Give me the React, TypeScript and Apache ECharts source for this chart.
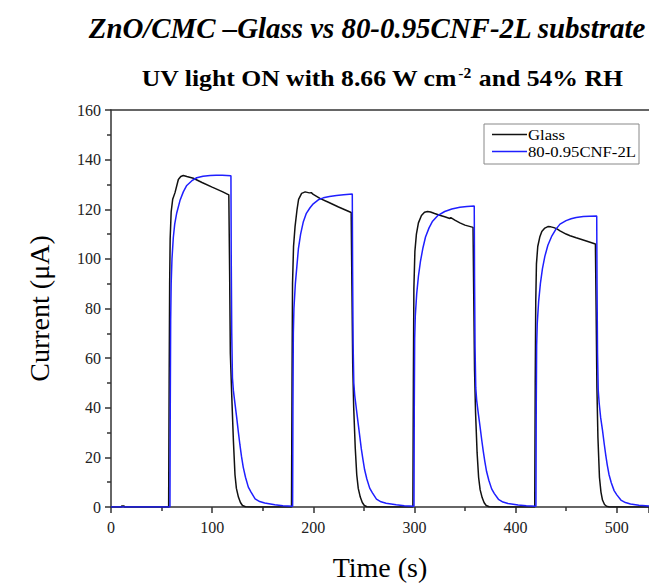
import React, { useEffect, useRef } from "react";
import * as echarts from "echarts";

const FONT = '"Liberation Serif", "Times New Roman", serif';

const titleText = "ZnO/CMC \u2013Glass vs 80-0.95CNF-2L substrate";
const subtitleMain = "UV light ON with 8.66 W cm";
const subtitleSup = "-2";
const subtitleTail = " and 54% RH";
const seriesNames = ["Glass", "80-0.95CNF-2L"];
const seriesColors = ["#111111", "#1f1fff"];

const xTicks = { min: 0, max: 532, interval: 100 };
const yTicks = { min: 0, max: 160, interval: 20 };

// Glass (black) time (s) and current (uA)
const glassTime = [
  0, 10, 10.5, 13, 13.5, 57,
  57.5, 58, 58.5, 59.5, 61, 63.3, 66.6, 69, 71.5, 75, 81.4, 90, 100, 110, 116.5,
  117.3, 118, 119.3, 121, 122.6, 124, 126, 128, 130, 133, 140, 178.5,
  179, 179.5, 180.5, 182, 184, 185.5, 188.5, 192, 196, 198, 200, 207, 215, 225, 237.5,
  238.2, 239, 240, 241.5, 243, 244.5, 246.5, 248.5, 250.5, 253, 260, 298.5,
  299, 299.5, 300.5, 302, 304, 307, 310, 313, 316, 320, 325, 330, 335, 336, 338, 340, 345, 350, 358,
  358.7, 359.5, 360.5, 362, 363.5, 365, 367, 369, 371, 374, 380, 419,
  419.5, 420, 420.7, 422, 424, 426, 429, 432, 435, 438, 441, 444, 450, 454, 460, 470, 479,
  479.7, 480.5, 481.5, 483, 484.5, 486, 488, 490, 493, 500, 532,
];
const glassCurrent = [
  0, 0, 0.4, 0.4, 0, 0,
  50, 90, 108, 119, 124, 126.7, 132, 133.2, 133.6, 133.2, 132.5, 130.8, 128.9, 127.1, 125.8,
  95, 62, 46, 27, 13, 7.5, 4, 1.8, 0.6, 0.1, 0, 0,
  50, 90, 105, 113, 120, 124, 126.4, 127, 126.6, 126.7, 126, 124.3, 122.8, 120.9, 118.7,
  90, 58, 40, 24, 13, 7.5, 4, 1.8, 0.6, 0.1, 0, 0,
  50, 88, 103, 110, 114.5, 117.5, 118.8, 119.1, 118.9, 118.3, 117.6, 117.0, 116.3, 116.6, 116.1, 115.6, 114.5, 113.6, 112.7,
  85, 55, 38, 22, 12, 7, 3.8, 1.7, 0.6, 0.1, 0, 0,
  50, 82, 98, 105, 108.8, 111, 112.4, 113, 112.9, 112.6, 112.1, 111.3, 110, 109.3, 108.5, 107.2, 106,
  80, 48, 28, 12, 6, 2.8, 1, 0.3, 0, 0, 0,
];

// 80-0.95CNF-2L (blue) time (s) and current (uA)
const cnfTime = [
  0, 58.3,
  58.6, 59, 59.5, 60.3, 61.6, 63, 65, 68.2, 71.5, 74.9, 80, 84.8, 91, 98, 104, 110, 118.6,
  118.9, 119.4, 120.1, 121, 122.5, 124.3, 126, 127.5, 129, 130.8, 133, 135.8, 138.5, 142.5, 147, 152, 162, 170, 179.6,
  179.9, 180.3, 180.9, 182.3, 183.8, 185.3, 187.5, 190.2, 193, 196.8, 200, 205, 210, 216, 223, 230, 238.6,
  238.9, 239.4, 240.1, 241, 242.5, 244.3, 246, 247.5, 249, 250.8, 253, 255.8, 258.5, 262.5, 267, 272, 282, 290, 299.6,
  299.9, 300.3, 300.9, 302.3, 304, 306, 308.5, 311, 314.5, 318, 323, 330, 337, 345, 352, 359.2,
  359.5, 360, 360.7, 361.6, 363.1, 364.9, 366.6, 368.1, 369.6, 371.4, 373.6, 376.4, 379.1, 383.1, 387.6, 392.6, 402.6, 410.6, 420.2,
  420.5, 420.9, 421.5, 422.9, 424.6, 426.6, 429, 432, 436, 440, 444, 450, 455, 460, 467, 473, 480.3,
  480.6, 481.1, 481.8, 482.7, 484.2, 486, 487.7, 489.2, 490.7, 492.5, 494.7, 497.5, 500.2, 504.2, 508.7, 513.7, 522, 532,
];
const cnfCurrent = [
  0, 0,
  40, 75, 90, 100, 108.5, 114, 118.5, 123.5, 127, 129.6, 131.5, 132.7, 133.3, 133.6, 133.7, 133.7, 133.5,
  100, 70, 52, 47, 42, 36, 30, 25, 20.5, 16, 12, 8, 6, 3.3, 2.2, 1.6, 0.9, 0.5, 0.3,
  40, 70, 80, 90, 97, 104, 110, 115, 118.2, 120.6, 122.2, 123.8, 124.6, 125.1, 125.5, 125.8, 126.1,
  96, 66, 50, 45, 40, 34, 28.5, 23.5, 19.5, 15, 11.3, 7.6, 5.7, 3.2, 2.1, 1.5, 0.9, 0.5, 0.3,
  40, 68, 77, 86, 93, 99, 104.5, 108.8, 112.5, 115.2, 117.4, 119.1, 120.1, 120.8, 121.1, 121.3,
  92, 64, 48, 43, 38, 32.5, 27, 22.5, 18.5, 14.3, 10.8, 7.3, 5.4, 3.1, 2, 1.4, 0.8, 0.5, 0.3,
  40, 65, 74, 83, 90, 96, 101, 105.5, 109.3, 112, 114, 115.4, 116.2, 116.7, 117.1, 117.2, 117.3,
  90, 62, 47, 42, 36, 31, 25.5, 21, 17, 13, 9.8, 6.6, 4.9, 2.8, 1.8, 1.2, 0.7, 0.4,
];

const toPairs = (t: number[], v: number[]) => t.map((x, i) => [x, v[i]]);

function measure(text: string, font: string): number {
  const c = document.createElement("canvas").getContext("2d");
  if (!c) return text.length * 10;
  c.font = font;
  return c.measureText(text).width;
}

export default function App() {
  const ref = useRef<HTMLDivElement>(null);
  useEffect(() => {
    if (!ref.current) return;
    const chart = echarts.init(ref.current, undefined, { renderer: "svg" });
    const axisColor = "#333";

    // horizontal scale factors so that the texts span the same width as in the reference
    const titleW = measure(titleText, `italic bold 30px ${FONT}`);
    const titleScale = 558 / titleW;
    const subW =
      measure(subtitleMain + subtitleTail, `bold 23px ${FONT}`) +
      measure(subtitleSup, `bold 14px ${FONT}`) + 2;
    const subScale = 482 / subW;
    const legW = measure(seriesNames[1], `14px ${FONT}`);
    const legScale = 108 / legW;

    chart.setOption({
      animation: false,
      backgroundColor: "#fff",
      textStyle: { fontFamily: FONT },
      grid: { left: 111, right: 0, top: 110, bottom: 76, containLabel: false },
      graphic: [
        {
          type: "text",
          x: 367,
          y: 28,
          scaleX: titleScale,
          style: {
            text: titleText,
            fontFamily: FONT,
            fontStyle: "italic",
            fontWeight: "bold",
            fontSize: 30,
            fill: "#000",
            textAlign: "center",
            textVerticalAlign: "middle",
          },
        },
        {
          type: "text",
          x: 382,
          y: 78,
          scaleX: subScale,
          style: {
            text: `{a|${subtitleMain}}{s|${subtitleSup}}{a|${subtitleTail}}`,
            textAlign: "center",
            textVerticalAlign: "middle",
            rich: {
              a: { fontFamily: FONT, fontWeight: "bold", fontSize: 23, fill: "#000" },
              s: { fontFamily: FONT, fontWeight: "bold", fontSize: 14, fill: "#000", verticalAlign: "top", padding: [0, 1, 10, 1] },
            },
          },
        },
        {
          type: "rect",
          shape: { x: 484, y: 124, width: 155, height: 40 },
          style: { fill: "#fff", stroke: "#888", lineWidth: 1 },
          z: 10,
        },
        {
          type: "line",
          shape: { x1: 492, y1: 134.5, x2: 527, y2: 134.5 },
          style: { stroke: seriesColors[0], lineWidth: 1.5 },
          z: 11,
        },
        {
          type: "line",
          shape: { x1: 492, y1: 151.5, x2: 527, y2: 151.5 },
          style: { stroke: seriesColors[1], lineWidth: 1.5 },
          z: 11,
        },
        {
          type: "text",
          x: 528,
          y: 135,
          scaleX: legScale,
          z: 11,
          style: { text: seriesNames[0], fontFamily: FONT, fontSize: 14, fill: "#000", textAlign: "left", textVerticalAlign: "middle" },
        },
        {
          type: "text",
          x: 528,
          y: 152,
          scaleX: legScale,
          z: 11,
          style: { text: seriesNames[1], fontFamily: FONT, fontSize: 14, fill: "#000", textAlign: "left", textVerticalAlign: "middle" },
        },
      ],
      xAxis: [
        {
          type: "value",
          min: xTicks.min,
          max: xTicks.max,
          interval: xTicks.interval,
          position: "bottom",
          name: "Time (s)",
          nameLocation: "middle",
          nameGap: 46,
          nameTextStyle: { fontFamily: FONT, fontSize: 28, color: "#000" },
          axisLine: { lineStyle: { color: axisColor, width: 1.5 } },
          axisTick: { length: 6, lineStyle: { color: axisColor, width: 1.5 } },
          minorTick: { show: true, splitNumber: 2, length: 4, lineStyle: { color: axisColor, width: 1.5 } },
          splitLine: { show: false },
          axisLabel: { fontFamily: FONT, fontSize: 16, color: "#222", margin: 12, showMaxLabel: false },
        },
        {
          type: "value",
          min: xTicks.min,
          max: xTicks.max,
          position: "top",
          axisLine: { show: true, lineStyle: { color: axisColor, width: 1.5 } },
          axisTick: { show: false },
          axisLabel: { show: false },
          splitLine: { show: false },
        },
      ],
      yAxis: {
        type: "value",
        min: yTicks.min,
        max: yTicks.max,
        interval: yTicks.interval,
        name: "Current (\u03bcA)",
        nameLocation: "middle",
        nameGap: 58,
        nameTextStyle: { fontFamily: FONT, fontSize: 28, color: "#000" },
        axisLine: { show: true, lineStyle: { color: axisColor, width: 1.5 } },
        axisTick: { show: true, length: 6, lineStyle: { color: axisColor, width: 1.5 } },
        minorTick: { show: true, splitNumber: 2, length: 4, lineStyle: { color: axisColor, width: 1.5 } },
        splitLine: { show: false },
        axisLabel: { fontFamily: FONT, fontSize: 16, color: "#222", margin: 10 },
      },
      series: [
        {
          name: seriesNames[0],
          type: "line",
          data: toPairs(glassTime, glassCurrent),
          showSymbol: false,
          symbol: "none",
          lineStyle: { color: seriesColors[0], width: 1.5 },
          itemStyle: { color: seriesColors[0] },
          z: 2,
        },
        {
          name: seriesNames[1],
          type: "line",
          data: toPairs(cnfTime, cnfCurrent),
          showSymbol: false,
          symbol: "none",
          lineStyle: { color: seriesColors[1], width: 1.5 },
          itemStyle: { color: seriesColors[1] },
          z: 3,
        },
      ],
    });
    return () => chart.dispose();
  }, []);
  return (
    <div
      ref={ref}
      style={{ position: "fixed", left: 0, top: 0, width: 649, height: 586 }}
    />
  );
}
